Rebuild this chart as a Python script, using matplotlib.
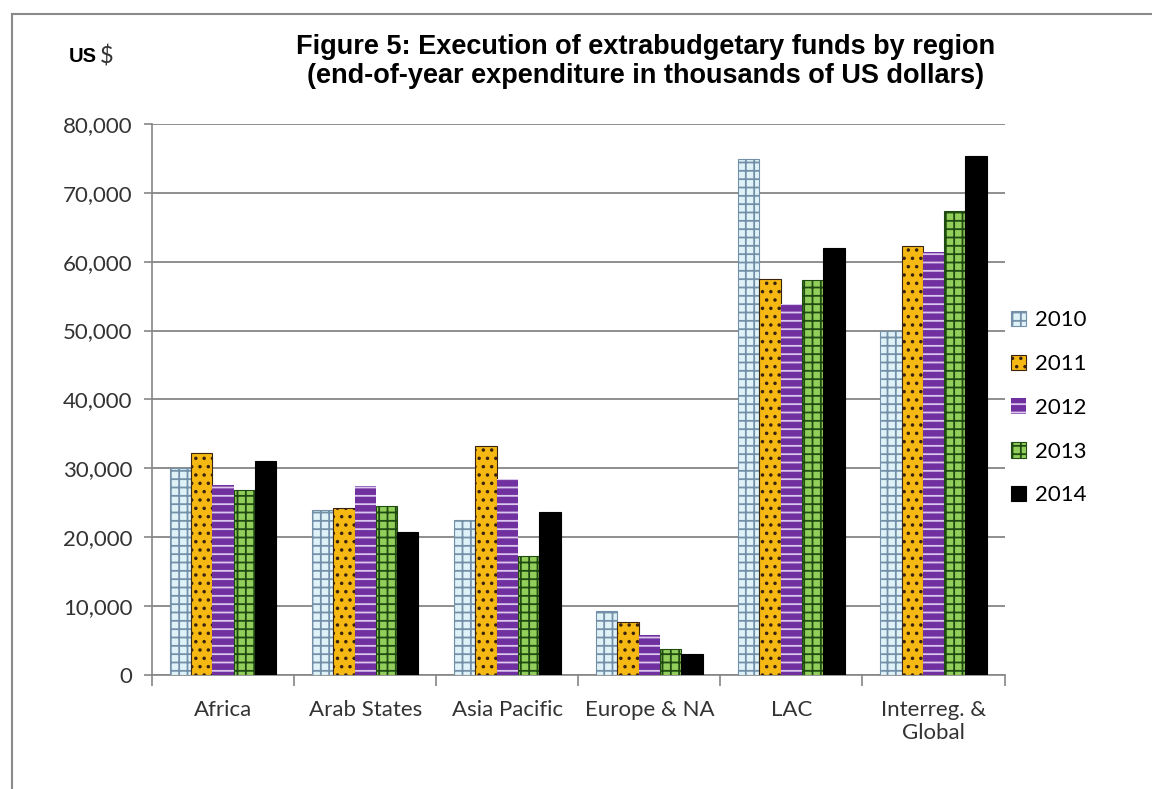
import numpy as np
import matplotlib
matplotlib.use('Agg')
import matplotlib.pyplot as plt

# Daten (Tausend US$)
regions = ['Africa', 'Arab States', 'Asia Pacific', 'Europe & NA', 'LAC', 'Interreg. &\nGlobal']
years = ['2010', '2011', '2012', '2013', '2014']
v2010 = [30000, 24000, 22500, 9300, 74900, 50000]
v2011 = [32200, 24200, 33300, 7700, 57500, 62300]
v2012 = [27600, 27500, 28500, 5800, 53800, 61400]
v2013 = [26900, 24500, 17300, 3800, 57300, 67300]
v2014 = [31100, 20800, 23700, 3100, 62000, 75400]
series = [v2010, v2011, v2012, v2013, v2014]

# Stil je Jahr: Füllfarbe, Schraffur, Schraffurfarbe
fills = ['#dff2f8', '#f6b913', '#7030a0', '#92cf5a', '#000000']
hatches = ['++', '..', '--', '++', None]
hatch_cols = ['#7490a8', '#3a2410', '#dcc8ee', '#1f4a12', '#000000']

plt.rcParams['font.family'] = ['Lato', 'DejaVu Sans']
plt.rcParams['hatch.linewidth'] = 1.3

fig = plt.figure(figsize=(11.52, 7.89), dpi=100)
ax = fig.add_axes([0.132, 0.1445, 0.74, 0.6985])

x = np.arange(len(regions))
w = 0.15
for i, (vals, yr) in enumerate(zip(series, years)):
    ax.bar(x + (i - 2) * w, vals, width=w, color=fills[i], hatch=hatches[i],
           edgecolor=hatch_cols[i], linewidth=0.8 if i != 2 else 0,
           label=yr, zorder=3)

ax.set_xlim(-0.5, len(regions) - 0.5)
ax.set_ylim(0, 80000)
ax.set_yticks(np.arange(0, 80001, 10000))
ax.set_yticklabels([f'{v:,}' for v in range(0, 80001, 10000)])
ax.set_xticks(x)
ax.set_xticklabels(regions)
ax.set_xticks(np.arange(-0.5, len(regions), 1), minor=True)
ax.tick_params(axis='x', which='major', length=0, pad=18, labelsize=16, labelcolor='#333333')
ax.tick_params(axis='x', which='minor', length=8, color='#868686', width=1.2)
ax.tick_params(axis='y', length=6, color='#868686', width=1.2, pad=8,
               labelsize=16, labelcolor='#333333')

ax.grid(axis='y', color='#868686', linewidth=1.3, zorder=0)
for s in ['top', 'right']:
    ax.spines[s].set_visible(False)
for s in ['left', 'bottom']:
    ax.spines[s].set_color('#868686')
    ax.spines[s].set_linewidth(1.2)

leg = fig.legend(loc='center left', bbox_to_anchor=(0.86, 0.483), frameon=False,
                 fontsize=16, handlelength=0.7, handleheight=0.7, handletextpad=0.4,
                 labelspacing=1.07)

fig.text(0.56, 0.922,
         'Figure 5: Execution of extrabudgetary funds by region\n'
         '(end-of-year expenditure in thousands of US dollars)',
         ha='center', va='center', fontsize=19.5, fontweight='bold',
         family='Liberation Sans', linespacing=1.15)
fig.text(0.06, 0.929, 'US', ha='left', va='center', fontsize=14.5, fontweight='bold',
         family='Liberation Sans')
fig.text(0.087, 0.929, '$', ha='left', va='center', fontsize=17, color='#333333')

# Rahmen links und oben
fig.add_artist(plt.Line2D([0.0105, 0.0105], [0.0, 0.982], transform=fig.transFigure,
                          color='#8a8a8a', linewidth=1.5))
fig.add_artist(plt.Line2D([0.0105, 1.0], [0.982, 0.982], transform=fig.transFigure,
                          color='#8a8a8a', linewidth=1.5))

fig.savefig('out.png', dpi=100)
